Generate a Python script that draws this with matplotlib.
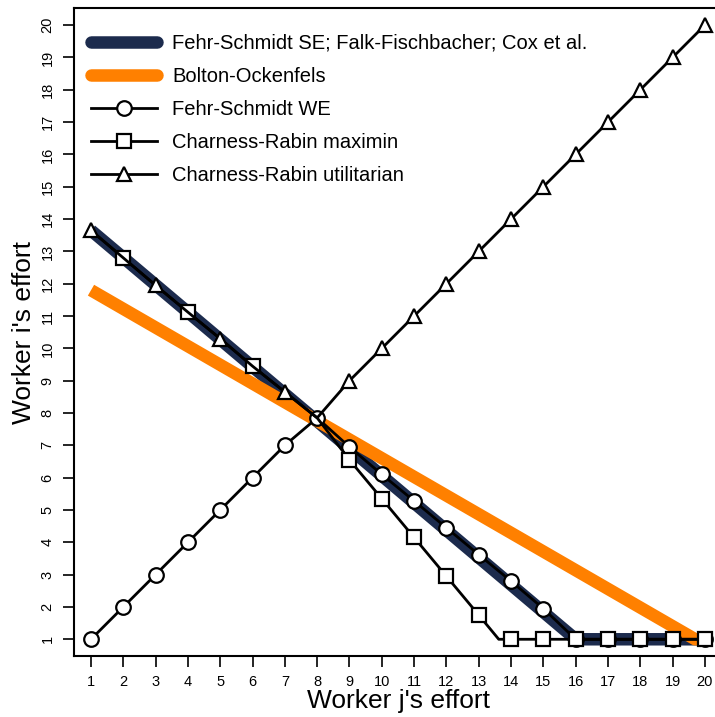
import matplotlib
matplotlib.use("Agg")
import matplotlib.pyplot as plt

plt.rcParams["font.family"] = ["Liberation Sans", "DejaVu Sans"]

# effort levels of worker j
efforts = list(range(1, 21))

# Fehr-Schmidt SE (thick navy) and Bolton-Ockenfels (thick orange)
se_x = [1, 16, 20]
se_y = [13.65, 1, 1]
bo_x = [1, 19.7, 20]
bo_y = [11.8, 1, 1]

# Fehr-Schmidt WE (circles)
we_y = [1, 2, 3, 4, 5, 6, 7, 7.85, 6.95, 6.1, 5.28, 4.45, 3.62, 2.8, 1.95,
        1, 1, 1, 1, 1]

# Charness-Rabin maximin (squares)
mm_x = [1, 2, 3, 4, 5, 6, 7, 8, 9, 10, 11, 12, 13, 13.62, 14, 15, 16, 17, 18, 19, 20]
mm_y = [13.65, 12.8, 11.95, 11.12, 10.3, 9.45, 8.65, 7.85, 6.55, 5.35, 4.15,
        2.95, 1.75, 1, 1, 1, 1, 1, 1, 1, 1]
mm_marks = [1, 3, 5, 8, 9, 10, 11, 12, 14, 15, 16, 17, 18, 19, 20]

# Charness-Rabin utilitarian (triangles)
ut_y = [13.65, 12.8, 11.95, 11.12, 10.3, 9.45, 8.65, 7.85, 9, 10, 11, 12, 13,
        14, 15, 16, 17, 18, 19, 20]
ut_marks = [0, 2, 4, 6] + list(range(8, 20))

fig = plt.figure(figsize=(7.15, 7.17), dpi=100)
ax = fig.add_axes([0.1035, 0.0851, 0.9063, 0.9037])

navy = "#1c2b4d"
orange = "#ff8000"

ax.plot(se_x, se_y, color=navy, lw=9, solid_capstyle="butt", zorder=2,
        label="Fehr-Schmidt SE; Falk-Fischbacher; Cox et al.")
ax.plot(bo_x, bo_y, color=orange, lw=9, solid_capstyle="butt", zorder=3,
        label="Bolton-Ockenfels")

mk = dict(color="black", lw=2, mfc="white", mec="black", mew=1.6, zorder=4)
ax.plot(efforts, we_y, marker="o", ms=10.5, label="Fehr-Schmidt WE", **mk)
ax.plot(mm_x, mm_y, marker="s", ms=9.5, markevery=mm_marks,
        label="Charness-Rabin maximin", **mk)
ax.plot(efforts, ut_y, marker="^", ms=10.5, markevery=ut_marks,
        label="Charness-Rabin utilitarian", **mk)

ax.set_xlim(0.474, 20.53)
ax.set_ylim(0.483, 20.53)
ax.set_xticks(efforts)
ax.set_yticks(efforts)
ax.tick_params(direction="out", length=8, width=1.2, labelsize=10.5, pad=6)
for lab in ax.get_yticklabels():
    lab.set_rotation(90)
    lab.set_va("center")
for s in ax.spines.values():
    s.set_linewidth(1.5)

ax.set_xlabel("Worker j's effort", fontsize=19, labelpad=0)
ax.set_ylabel("Worker i's effort", fontsize=19, labelpad=3)

leg = ax.legend(loc="upper left", bbox_to_anchor=(0.0134, 0.973), frameon=False,
                fontsize=14.5, handlelength=3.3, handletextpad=0.75,
                labelspacing=0.70, borderaxespad=0)
for h in leg.get_lines()[:2]:
    h.set_solid_capstyle("round")

fig.savefig("out.png", dpi=100)
